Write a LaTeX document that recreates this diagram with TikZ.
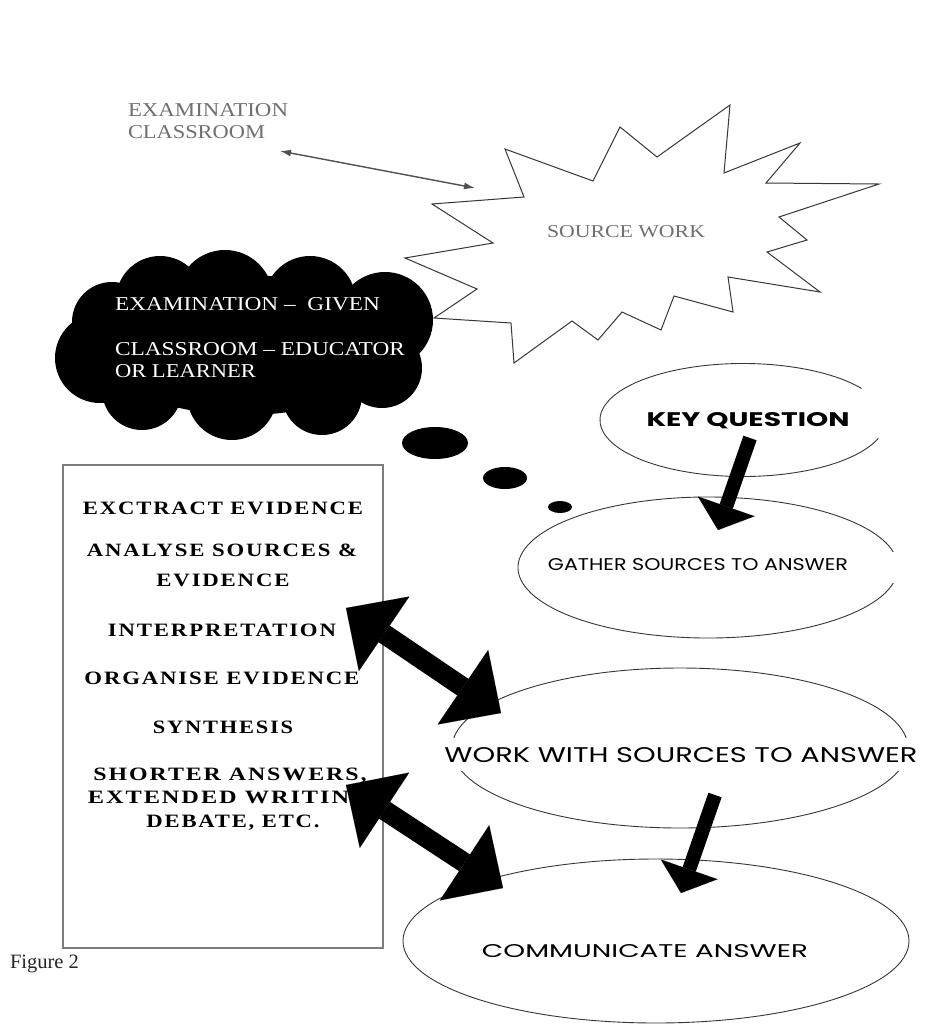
\documentclass[tikz,border=0pt]{standalone}
\usepackage{fontspec}
\usepackage{graphicx}
\setmainfont{Liberation Serif}
\newfontfamily\comicfont{Poppins}
\newfontfamily\boxfont[LetterSpace=8]{Liberation Serif}
\usetikzlibrary{arrows.meta}
\definecolor{lblgray}{RGB}{112,112,112}
\definecolor{edgegray}{RGB}{55,55,55}
\definecolor{rectgray}{RGB}{125,125,125}
\definecolor{thinarrowgray}{RGB}{80,80,80}
\newcommand\fitbox[3]{\resizebox{#1pt}{#2pt}{#3}}
\begin{document}
\begin{tikzpicture}[x=1pt,y=-1pt,
  every node/.style={inner sep=0pt, outer sep=0pt},
  graylbl/.style={text=lblgray},
  boxtxt/.style={anchor=base, font=\boxfont\bfseries},
  cloudtxt/.style={anchor=base west, text=white},
  comictxt/.style={anchor=base, font=\comicfont},
  ellline/.style={draw=edgegray, line width=0.9pt},
  blockarrow/.style={line width=14pt, -{Triangle[length=25pt,width=60pt,line width=0.01pt]}},
  dblarrow/.style={line width=20pt, {Triangle[length=46pt,width=90pt,line width=0.01pt]}-{Triangle[length=46pt,width=90pt,line width=0.01pt]}},
  thinarrow/.style={draw=thinarrowgray, line width=1.4pt, {Latex[length=11pt,width=7pt]}-{Latex[length=11pt,width=7pt]}}
]
\useasboundingbox (0,0) rectangle (949,1026);
\fill[white] (0,0) rectangle (949,1026);

% ---------- star (source work) ----------
\draw[edgegray, line width=1pt, line join=miter, miter limit=25]
  (505,149) -- (593,181) -- (620,127) -- (657,157) -- (730,105) -- (724,173)
  -- (800,143) -- (766,183) -- (879,184) -- (779,217) -- (807,240) -- (767,252)
  -- (820,292) -- (728,277) -- (733,312) -- (674,296) -- (661,330) -- (622,312)
  -- (598,340) -- (572,321) -- (514,363) -- (511,323) -- (434,318) -- (477,289)
  -- (405,258) -- (493,243) -- (432,204) -- (524,197) -- cycle;
\node[graylbl, anchor=base] (sw) at (626,237) {\fitbox{158}{12}{SOURCE WORK}};

% ---------- examination / classroom label ----------
\node[graylbl, anchor=base west] (exl1) at (128,116) {\fitbox{160}{13}{EXAMINATION}};
\node[graylbl, anchor=base west] (exl2) at (128,138) {\fitbox{137}{13}{CLASSROOM}};
\coordinate (exA) at (280,151);
\coordinate (swA) at (475,188);
\draw[thinarrow] (exA) -- (swA);

% ---------- cloud ----------
\fill[black] (245,345) ellipse[x radius=150, y radius=70];
\foreach \cx/\cy/\r in {100/358/45, 112/322/40, 160/300/44, 225/298/48, 310/302/46,
   385/320/48, 382/368/40, 322/395/40, 232/395/45, 142/390/40}
  \fill[black] (\cx,\cy) circle[radius=\r];
\node[cloudtxt] (c1) at (115,310) {\fitbox{265}{13}{EXAMINATION –\ \ GIVEN}};
\node[cloudtxt] (c2) at (115,355) {\fitbox{290}{13}{CLASSROOM – EDUCATOR}};
\node[cloudtxt] (c3) at (115,377) {\fitbox{141}{13}{OR LEARNER}};

% thought bubbles
\fill[black] (435,443) ellipse[x radius=33, y radius=16];
\fill[black] (505,478) ellipse[x radius=22, y radius=11];
\fill[black] (560,507) ellipse[x radius=12, y radius=6];

% ---------- ellipses ----------
\coordinate (kqc) at (743,420);
\coordinate (gsc) at (708,567.5);
\coordinate (wsc) at (680,748);
\coordinate (cac) at (656,941);
\draw[ellline] ([shift={(19:143 and 56.5)}]kqc) arc[start angle=19, end angle=326, x radius=143, y radius=56.5];
\draw[ellline] ([shift={(12.7:190 and 70.5)}]gsc) arc[start angle=12.7, end angle=347.3, x radius=190, y radius=70.5];
\draw[ellline] (wsc) ellipse[x radius=228, y radius=80];
\draw[ellline] (cac) ellipse[x radius=253, y radius=82];

\node[comictxt, font=\comicfont\bfseries] (kq) at (748,426) {\fitbox{203}{14}{KEY QUESTION}};
\node[comictxt] (gs) at (698,570) {\fitbox{300}{12}{GATHER SOURCES TO ANSWER}};
\node[comictxt, fill=white, inner ysep=9pt] (ws) at (681,762) {\fitbox{473}{15}{WORK WITH SOURCES TO ANSWER}};
\node[comictxt] (ca) at (645,957) {\fitbox{326}{13}{COMMUNICATE ANSWER}};

% ---------- rectangle ----------
\draw[rectgray, line width=1.5pt] (63,465) rectangle (383,948);
\node[boxtxt] (b1) at (223,514) {\fitbox{280}{12.5}{EXCTRACT EVIDENCE}};
\node[boxtxt] (b2a) at (222,556) {\fitbox{270}{12.5}{ANALYSE SOURCES \&}};
\node[boxtxt] (b2b) at (223,586) {\fitbox{133}{12.5}{EVIDENCE}};
\node[boxtxt] (b3) at (222,636) {\fitbox{228}{12.5}{INTERPRETATION}};
\node[boxtxt] (b4) at (222,684) {\fitbox{275}{12.5}{ORGANISE EVIDENCE}};
\node[boxtxt] (b5) at (223,733) {\fitbox{140}{12.5}{SYNTHESIS}};
\node[boxtxt] (b6a) at (230,780) {\fitbox{273}{12.5}{SHORTER ANSWERS,}};
\node[boxtxt] (b6b) at (229,803) {\fitbox{282}{12.5}{EXTENDED WRITING}};
\node[boxtxt] (b6c) at (233,827) {\fitbox{173}{12.5}{DEBATE, ETC.}};

% ---------- figure label ----------
\node[anchor=base west, text=black!85] (fig) at (10,968) {\fitbox{69}{13.5}{Figure 2}};

% ---------- block arrows ----------
\coordinate (kqA) at (750,438);
\coordinate (gsA) at (718,530);
\coordinate (wsA) at (715,795);
\coordinate (caA) at (681,893);
\draw[blockarrow] (kqA) -- (gsA);
\draw[blockarrow] (wsA) -- (caA);

\coordinate (bxA1) at (346,608);
\coordinate (wsB) at (501,713);
\coordinate (bxA2) at (346,785);
\coordinate (caB) at (503,888);
\draw[dblarrow] (bxA1) -- (wsB);
\draw[dblarrow] (bxA2) -- (caB);
\end{tikzpicture}
\end{document}
